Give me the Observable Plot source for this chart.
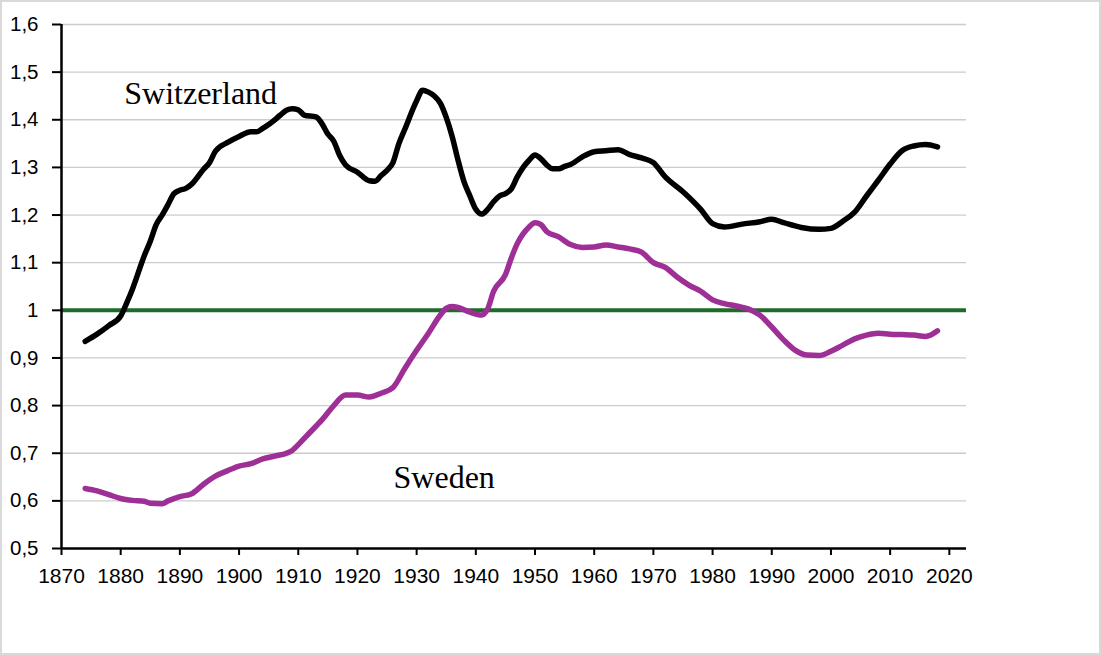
<!DOCTYPE html>
<html>
<head>
<meta charset="utf-8">
<script src="https://cdn.jsdelivr.net/npm/d3@7"></script>
<script src="https://cdn.jsdelivr.net/npm/@observablehq/plot@0.6"></script>
<style>
  html, body { margin: 0; padding: 0; background: #fff; }
  #wrap { position: relative; width: 1101px; height: 655px; }
  #frame { position: absolute; left: 0; top: 0; width: 1101px; height: 655px; box-sizing: border-box; border: 2px solid #d9d9d9; pointer-events: none; }
</style>
</head>
<body>
<div id="wrap"><div id="chart"></div><div id="frame"></div></div>
<script>
const swissYears = [1874,1876,1878,1880,1881,1882,1884,1885,1886,1887,1888,1889,1890,1891,1892,1894,1895,1896,1898,1900,1902,1903,1904,1905,1907,1908,1909,1910,1911,1913,1914,1915,1916,1917,1918,1920,1922,1923,1924,1925,1926,1927,1928,1930,1931,1932,1933,1934,1935,1936,1937,1938,1939,1940,1941,1942,1943,1944,1945,1946,1947,1948,1949,1950,1951,1952,1953,1954,1955,1956,1958,1960,1962,1964,1966,1968,1970,1972,1975,1978,1980,1982,1985,1988,1990,1992,1995,1998,2000,2002,2004,2006,2008,2010,2012,2014,2016,2018];
const swissValues = [0.935,0.95,0.968,0.988,1.015,1.045,1.115,1.145,1.18,1.2,1.222,1.245,1.252,1.256,1.265,1.296,1.31,1.334,1.352,1.365,1.375,1.375,1.382,1.39,1.41,1.42,1.423,1.421,1.41,1.406,1.392,1.37,1.355,1.325,1.305,1.29,1.272,1.271,1.283,1.294,1.31,1.35,1.38,1.44,1.462,1.458,1.45,1.435,1.405,1.365,1.315,1.27,1.24,1.212,1.202,1.212,1.228,1.24,1.245,1.255,1.28,1.3,1.315,1.326,1.318,1.305,1.297,1.297,1.302,1.306,1.322,1.333,1.335,1.337,1.327,1.32,1.31,1.28,1.249,1.212,1.182,1.175,1.181,1.186,1.191,1.184,1.174,1.17,1.172,1.187,1.206,1.24,1.273,1.307,1.335,1.345,1.348,1.343];

const swedenYears = [1874,1876,1878,1880,1882,1884,1885,1887,1888,1890,1892,1894,1896,1898,1900,1902,1904,1906,1908,1909,1910,1912,1914,1916,1918,1920,1922,1924,1926,1928,1930,1932,1934,1935,1936,1937,1939,1941,1942,1943,1945,1946,1947,1949,1950,1951,1952,1954,1956,1958,1960,1962,1964,1966,1968,1970,1972,1974,1976,1978,1980,1982,1984,1986,1988,1990,1992,1994,1996,1998,2000,2002,2004,2006,2008,2010,2012,2014,2016,2018];
const swedenValues = [0.626,0.621,0.613,0.605,0.601,0.599,0.595,0.594,0.6,0.609,0.615,0.635,0.652,0.663,0.673,0.678,0.688,0.694,0.7,0.706,0.718,0.744,0.77,0.8,0.822,0.822,0.818,0.826,0.838,0.878,0.916,0.952,0.99,1.004,1.008,1.006,0.996,0.99,1.003,1.04,1.075,1.11,1.14,1.175,1.184,1.18,1.165,1.154,1.138,1.132,1.133,1.137,1.133,1.129,1.122,1.1,1.09,1.07,1.053,1.04,1.022,1.014,1.009,1.003,0.99,0.965,0.938,0.916,0.906,0.905,0.914,0.927,0.94,0.948,0.952,0.95,0.949,0.948,0.945,0.957];

const seriesNames = ["Switzerland", "Sweden"];
const labelX = [1880.6, 1926.1];
const labelY = [1.433, 0.628];
const xTicks = [1870,1880,1890,1900,1910,1920,1930,1940,1950,1960,1970,1980,1990,2000,2010,2020];
const yTicks = [0.5,0.6,0.7,0.8,0.9,1.0,1.1,1.2,1.3,1.4,1.5,1.6];
const referenceLevel = [1];

const swiss = swissYears.map((y, i) => ({year: y, value: swissValues[i]}));
const sweden = swedenYears.map((y, i) => ({year: y, value: swedenValues[i]}));
const labels = seriesNames.map((n, i) => ({name: n, x: labelX[i], y: labelY[i]}));

const chart = Plot.plot({
  width: 1101,
  height: 655,
  marginLeft: 61,
  marginRight: 135,
  marginTop: 24,
  marginBottom: 107,
  style: {fontFamily: "'Liberation Sans', Arial, sans-serif", color: "#000", background: "transparent", fontSize: "20px"},
  x: {domain: [1870, 2022.9]},
  y: {domain: [0.5, 1.6]},
  marks: [
    Plot.ruleY(yTicks.filter(d => d > 0.5), {stroke: "#cccccc", strokeWidth: 1.3}),
    Plot.ruleY(referenceLevel, {stroke: "#1e6b2a", strokeWidth: 4}),
    Plot.line(swiss, {x: "year", y: "value", stroke: "#000", strokeWidth: 5.5, curve: "monotone-x", strokeLinejoin: "round", strokeLinecap: "round"}),
    Plot.line(sweden, {x: "year", y: "value", stroke: "#9e2f96", strokeWidth: 5.5, curve: "monotone-x", strokeLinejoin: "round", strokeLinecap: "round"}),
    Plot.text(labels, {x: "x", y: "y", text: "name", textAnchor: "start", lineAnchor: "bottom", fontFamily: "'Liberation Serif', 'Times New Roman', serif", fontSize: 32, fill: "#000"}),
    Plot.axisX({ticks: xTicks, tickFormat: d => String(d), tickSize: 7, tickPadding: 13, fontSize: 21, strokeWidth: 2, label: null}),
    Plot.axisY({ticks: yTicks, tickFormat: d => String(d).replace(".", ","), tickSize: 9, tickPadding: 14, fontSize: 20.5, strokeWidth: 2, label: null}),
    Plot.ruleX([1870], {stroke: "#000", strokeWidth: 2.5}),
    Plot.ruleY([0.5], {stroke: "#000", strokeWidth: 2.5})
  ]
});
document.getElementById("chart").appendChild(chart);
</script>
</body>
</html>
